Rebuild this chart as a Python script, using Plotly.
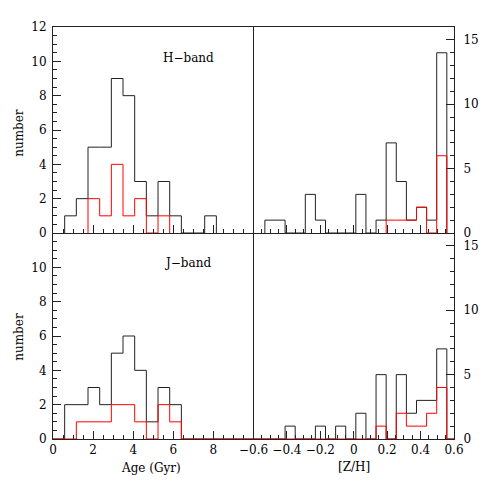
import plotly.graph_objects as go

# ---- data ----
age_bin_width = 0.582
age_edges = [age_bin_width * k for k in range(18)]
H_age_all = [0, 1, 2, 5, 5, 9, 8, 3, 1, 3, 1, 0, 0, 1, 0, 0, 0]
H_age_sub = [0, 0, 0, 2, 1, 4, 1, 2, 0, 1, 0, 0, 0, 0, 0, 0, 0]
J_age_all = [0, 2, 2, 3, 2, 5, 6, 4, 1, 3, 2, 0, 0, 0, 0, 0, 0]
J_age_sub = [0, 0, 1, 1, 1, 2, 2, 1, 0, 2, 1, 0, 0, 0, 0, 0, 0]

zh_bin_width = 0.0605
zh_start = -0.532
zh_edges = [zh_start + zh_bin_width * k for k in range(19)]
H_zh_all = [1, 1, 0, 0, 3, 1, 0, 0, 0, 3, 0, 1, 7, 4, 1, 2, 1, 14]
H_zh_sub = [0, 0, 0, 0, 0, 0, 0, 0, 0, 0, 0, 0, 1, 1, 1, 2, 0, 6]
J_zh_all = [0, 0, 1, 0, 0, 1, 0, 1, 0, 2, 0, 5, 0, 5, 2, 3, 3, 7]
J_zh_sub = [0, 0, 0, 0, 0, 0, 0, 0, 0, 0, 0, 1, 0, 2, 1, 1, 2, 4]

age_range = [0, 10]
zh_range = [-0.6, 0.6]
left_y_range = [0, 12]
right_y_range = [0, 16]

FONT = "DejaVu Serif"
BLACK = "#222222"
RED = "#ff0000"


def step_path(edges, counts, xmin=None, xmax=None, trim=False):
    lo, hi = 0, len(counts)
    if trim:
        nz = [i for i, c in enumerate(counts) if c > 0]
        lo, hi = nz[0], nz[-1] + 1
    xs, ys = [], []
    if xmin is not None:
        xs.append(xmin); ys.append(0)
    xs.append(edges[lo]); ys.append(0)
    for i in range(lo, hi):
        xs += [edges[i], edges[i + 1]]
        ys += [counts[i], counts[i]]
    xs.append(edges[hi]); ys.append(0)
    if xmax is not None:
        xs.append(xmax); ys.append(0)
    return xs, ys


fig = go.Figure()


def add_hist(edges, counts, color, xa, ya, full=None):
    if full:
        xs, ys = step_path(edges, counts, full[0], full[1])
    else:
        xs, ys = step_path(edges, counts, trim=True)
    fig.add_trace(go.Scatter(x=xs, y=ys, mode="lines", xaxis=xa, yaxis=ya,
                             line=dict(color=color, width=1), hoverinfo="skip",
                             showlegend=False))


add_hist(age_edges, H_age_all, BLACK, "x", "y")
add_hist(age_edges, H_age_sub, RED, "x", "y")
add_hist(zh_edges, H_zh_all, BLACK, "x2", "y2")
add_hist(zh_edges, H_zh_sub, RED, "x2", "y2")
add_hist(age_edges, J_age_all, BLACK, "x3", "y3", age_range)
add_hist(age_edges, J_age_sub, RED, "x3", "y3", age_range)
add_hist(zh_edges, J_zh_all, BLACK, "x4", "y4", zh_range)
add_hist(zh_edges, J_zh_sub, RED, "x4", "y4", zh_range)

common = dict(showline=True, linecolor=BLACK, linewidth=1,
              ticks="inside", ticklen=8, tickcolor=BLACK, tickwidth=1,
              showgrid=False, zeroline=False, layer="below traces",
              tickfont=dict(family=FONT, size=12, color="black"))

minor_age = dict(ticks="inside", ticklen=4, tickcolor=BLACK, tickmode="linear", tick0=0, dtick=0.5, showgrid=False)
minor_zh = dict(ticks="inside", ticklen=4, tickcolor=BLACK, tickmode="linear", tick0=-0.6, dtick=0.05, showgrid=False)
minor_ly = dict(ticks="inside", ticklen=4, tickcolor=BLACK, tickmode="linear", tick0=0, dtick=0.5, showgrid=False)
minor_ry = dict(ticks="inside", ticklen=4, tickcolor=BLACK, tickmode="linear", tick0=0, dtick=1, showgrid=False)

fig.update_layout(
    width=491, height=491,
    margin=dict(l=53, r=26, t=27, b=52),
    paper_bgcolor="white", plot_bgcolor="white",
    showlegend=False,
    xaxis=dict(domain=[0, 0.5], range=age_range, anchor="y", showticklabels=False, mirror=True,
               tickmode="linear", tick0=0, dtick=2, minor=minor_age, **common),
    yaxis=dict(domain=[0.5, 1], range=left_y_range, anchor="x", mirror=False, ticklabelstandoff=3,
               tickmode="linear", tick0=0, dtick=2, minor=minor_ly, **common),
    xaxis2=dict(domain=[0.5, 1], range=zh_range, anchor="y2", showticklabels=False, mirror=True,
                tickmode="linear", tick0=-0.6, dtick=0.2, minor=minor_zh, **common),
    yaxis2=dict(domain=[0.5, 1], range=right_y_range, anchor="x2", side="right", mirror=True,
                ticklabelstandoff=6,
                tickmode="linear", tick0=0, dtick=5, minor=minor_ry, **common),
    xaxis3=dict(domain=[0, 0.5], range=age_range, anchor="y3", mirror=False,
                tickmode="array", tickvals=[0, 2, 4, 6, 8, 10], ticktext=["0", "2", "4", "6", "8", ""],
                minor=minor_age, **common),
    yaxis3=dict(domain=[0, 0.5], range=left_y_range, anchor="x3", mirror=False, ticklabelstandoff=3,
                tickmode="array", tickvals=[0, 2, 4, 6, 8, 10, 12], ticktext=["0", "2", "4", "6", "8", "10", ""],
                minor=minor_ly, **common),
    xaxis4=dict(domain=[0.5, 1], range=zh_range, anchor="y4", mirror=False,
                tickmode="linear", tick0=-0.6, dtick=0.2, minor=minor_zh, **common),
    yaxis4=dict(domain=[0, 0.5], range=right_y_range, anchor="x4", side="right", mirror=True,
                ticklabelstandoff=6,
                tickmode="linear", tick0=0, dtick=5, minor=minor_ry, **common),
)

ann_font = dict(family=FONT, size=12, color="black")
fig.add_annotation(x=6.78, y=10.2, xref="x", yref="y", text="H\u2212band", showarrow=False,
                   xanchor="center", yanchor="middle", font=ann_font)
fig.add_annotation(x=6.7, y=10.25, xref="x3", yref="y3", text="J\u2212band", showarrow=False,
                   xanchor="center", yanchor="middle", font=ann_font)
fig.add_annotation(x=-0.085, y=0.743, xref="paper", yref="paper", text="number", textangle=-90,
                   xanchor="center", yanchor="middle", showarrow=False, font=ann_font)
fig.add_annotation(x=-0.085, y=0.248, xref="paper", yref="paper", text="number", textangle=-90,
                   xanchor="center", yanchor="middle", showarrow=False, font=ann_font)
fig.add_annotation(x=0.244, y=-0.070, xref="paper", yref="paper", text="Age (Gyr)",
                   xanchor="center", yanchor="middle", showarrow=False, font=ann_font)
fig.add_annotation(x=0.75, y=-0.068, xref="paper", yref="paper", text="[Z/H]",
                   xanchor="center", yanchor="middle", showarrow=False, font=ann_font)

fig.write_html("out.html", config={"displayModeBar": False},
               post_script="document.body.style.margin='0';document.body.style.overflow='hidden';")
